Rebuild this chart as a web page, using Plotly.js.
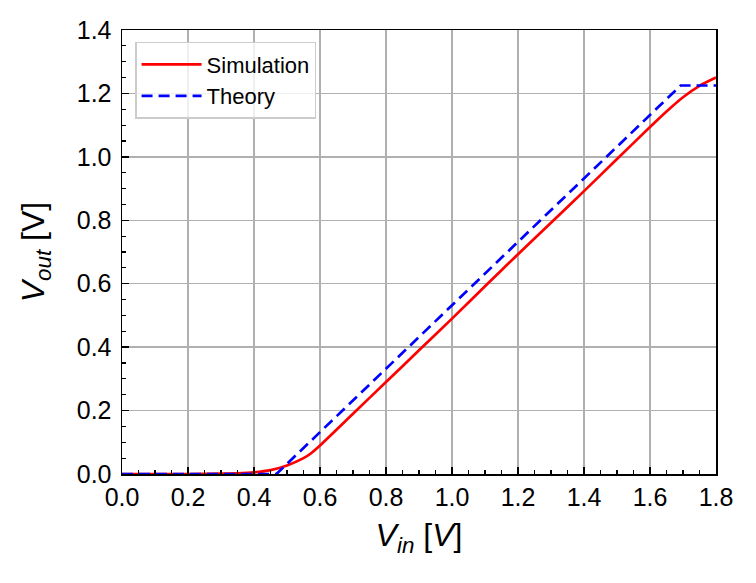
<!DOCTYPE html>
<html>
<head>
<meta charset="utf-8">
<script src="https://cdn.plot.ly/plotly-3.0.1.min.js"></script>
<style>html,body{margin:0;padding:0;background:#fff;}#chart{width:756px;height:583px;}</style>
</head>
<body>
<div id="chart"></div>
<script>
// Simulation curve
var simVin  = [0, 0.1, 0.2, 0.3, 0.35, 0.4, 0.45, 0.5, 0.55, 0.57, 0.6, 0.7, 0.8, 0.9, 1.0, 1.1, 1.2, 1.3, 1.4, 1.5, 1.6, 1.65, 1.7, 1.75, 1.8];
var simVout = [0, 0, 0, 0.001, 0.002, 0.005, 0.012, 0.027, 0.05, 0.063, 0.09, 0.19, 0.29, 0.39, 0.49, 0.592, 0.693, 0.792, 0.892, 0.993, 1.094, 1.143, 1.188, 1.224, 1.25];
// Theory curve
var thVin  = [0, 0.2, 0.4, 0.468, 0.6, 0.8, 1.0, 1.2, 1.4, 1.6, 1.693, 1.8];
var thVout = [0, 0, 0, 0, 0.132, 0.332, 0.532, 0.735, 0.935, 1.134, 1.225, 1.225];

var xTicks = [0, 0.2, 0.4, 0.6, 0.8, 1.0, 1.2, 1.4, 1.6, 1.8];
var xTickText = ['0.0','0.2','0.4','0.6','0.8','1.0','1.2','1.4','1.6','1.8'];
var yTicks = [0, 0.2, 0.4, 0.6, 0.8, 1.0, 1.2, 1.4];
var yTickText = ['0.0','0.2','0.4','0.6','0.8','1.0','1.2','1.4'];

var FONT = 'Liberation Sans, Arial, Helvetica, sans-serif';

var traces = [
  {x: simVin, y: simVout, type: 'scatter', mode: 'lines', name: 'Simulation',
   line: {color: '#ff0000', width: 2.7, shape: 'spline', smoothing: 0.6}},
  {x: thVin, y: thVout, type: 'scatter', mode: 'lines', name: 'Theory',
   line: {color: '#0000ff', width: 2.7, dash: '11px,6px'}}
];

var axisCommon = {
  showline: true, linecolor: '#000', linewidth: 1.5, mirror: true,
  ticks: 'inside', ticklen: 7, tickwidth: 1.5, tickcolor: '#000',
  showgrid: true, gridcolor: '#b0b0b0', gridwidth: 1.5,
  zeroline: false,
  tickfont: {family: FONT, size: 25, color: '#000'},
  minor: {dtick: 0.05, ticks: 'inside', ticklen: 4, tickwidth: 1.2, tickcolor: '#000', showgrid: false},
  fixedrange: true
};

var layout = {
  width: 756, height: 583,
  margin: {l: 122, r: 40, t: 30, b: 109, pad: 0},
  paper_bgcolor: '#fff', plot_bgcolor: '#fff',
  showlegend: true,
  legend: {x: 0.022, y: 0.973, xanchor: 'left', yanchor: 'top',
           bgcolor: 'rgba(255,255,255,0.8)', bordercolor: '#cccccc', borderwidth: 1.5,
           font: {family: FONT, size: 22, color: '#000'},
           tracegroupgap: 0, itemwidth: 60},
  xaxis: Object.assign({}, axisCommon, {
    range: [0, 1.8], tickvals: xTicks, ticktext: xTickText,
    title: {text: '<i>V</i><sub><i>in</i></sub> [<i>V</i>]', font: {family: FONT, size: 32, color: '#000'}, standoff: 14}
  }),
  yaxis: Object.assign({}, axisCommon, {
    range: [0, 1.4], tickvals: yTicks, ticktext: yTickText, ticklabelstandoff: 4,
    title: {text: '<i>V</i><sub><i>out</i></sub> [V]', font: {family: FONT, size: 32, color: '#000'}, standoff: 22}
  })
};

Plotly.newPlot('chart', traces, layout, {staticPlot: true, displayModeBar: false});
</script>
</body>
</html>
